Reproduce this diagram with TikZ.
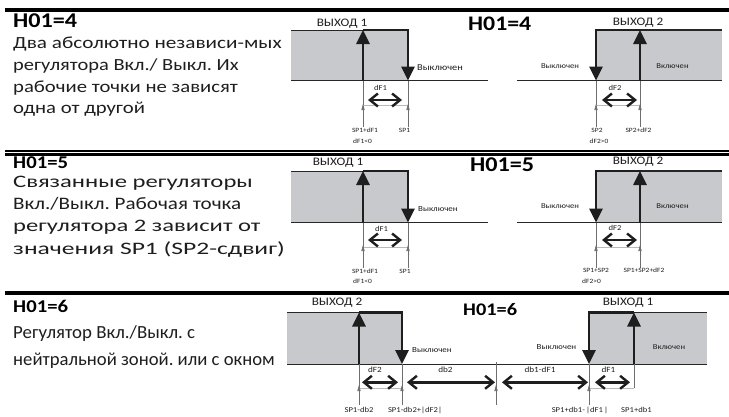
\documentclass[tikz,border=0pt]{standalone}
\usepackage{fontspec}
\setmainfont{Carlito}[FakeStretch=1.15]
\newfontfamily\condfont{Carlito}[FakeStretch=1.0]
\usetikzlibrary{arrows.meta}
\definecolor{boxgray}{RGB}{200,201,204}
\definecolor{ink}{RGB}{30,30,30}
\definecolor{thingray}{RGB}{110,110,110}
\definecolor{palegray}{RGB}{185,185,185}
\newcommand{\fs}[1]{\fontsize{#1}{#1}\selectfont}
\newcommand{\hx}[2]{\scalebox{#1}[1]{#2}}
\frenchspacing
\tikzset{
  txt/.style={inner sep=0pt, text=ink},
  hd/.style={txt, anchor=base west, text=black, font=\bfseries\fs{#1}},
  bodytxt/.style={txt, anchor=base west, font=\frenchspacing\fs{#1}},
  condtxt/.style={txt, anchor=base west, font=\frenchspacing\condfont\fs{#1}},
  outlbl/.style={txt, anchor=base, font=\fs{11.5}},
  statelbl/.style={txt, anchor=base, font=\fs{#1}},
  difflbl/.style={txt, anchor=base, font=\fs{#1}},
  splbl/.style={txt, anchor=base, font=\fs{#1}},
  sepline/.style={line width=#1, black},
  axisline/.style={line width=0.9pt, black!85},
  topline/.style={line width=#1, black!85},
  bigarrow/.style={line width=2.6pt, ink, line join=miter, -{Triangle[length=14pt,width=13pt]}},
  dblarrow/.style={line width=2.4pt, ink, {Straight Barb[length=8pt,width=13pt]}-{Straight Barb[length=8pt,width=13pt]}},
  guide/.style={line width=0.5pt, thingray},
  pale/.style={line width=0.5pt, palegray},
  smallarrow/.style={line width=0.6pt, thingray, -{Triangle[length=6pt,width=3.2pt]}},
}
\begin{document}
\begin{tikzpicture}[x=1pt,y=-1pt]
\useasboundingbox (0,0) rectangle (729,416);

% ---------- separators
\coordinate (s1a) at (5,10);   \coordinate (s1b) at (729,10);
\coordinate (s2a) at (5,150.8); \coordinate (s2b) at (729,150.8);
\coordinate (s2c) at (5,154.5); \coordinate (s2d) at (729,154.5);
\coordinate (s3a) at (5,292.5); \coordinate (s3b) at (729,292.5);
\draw[sepline=3.5pt] (s1a) -- (s1b);
\draw[sepline=1.4pt] (s2a) -- (s2b);
\draw[sepline=3pt] (s2c) -- (s2d);
\draw[sepline=4pt] (s3a) -- (s3b);

% ---------- left texts
\node[hd=21] (h4) at (13,27) {H01=4};
\node[bodytxt=17] (t4a) at (13,48.5) {\hx{1.084}{Два абсолютно независи-мых}};
\node[bodytxt=17] (t4b) at (13,70.5) {\hx{1.046}{регулятора Вкл./ Выкл. Их}};
\node[bodytxt=17] (t4c) at (13,92) {\hx{1.058}{рабочие точки не зависят}};
\node[bodytxt=17] (t4d) at (13,113.5) {\hx{1.06}{одна от другой}};

\node[hd=18] (h5) at (13,168) {H01=5};
\node[bodytxt=17.5] (t5a) at (13,187) {\hx{1.227}{Связанные регуляторы}};
\node[bodytxt=17.5] (t5b) at (13,209.5) {\hx{1.047}{Вкл./Выкл. Рабочая точка}};
\node[bodytxt=17.5] (t5c) at (13,231) {\hx{1.223}{регулятора 2 зависит от}};
\node[bodytxt=17.5] (t5d) at (13,254) {\hx{1.27}{значения SP1 (SP2-сдвиг)}};

\node[hd=18] (h6) at (13,312.3) {H01=6};
\node[condtxt=18.5] (t6a) at (13,338.3) {\hx{1.02}{Регулятор Вкл./Выкл. с}};
\node[condtxt=18.5] (t6b) at (13,365) {\hx{1.01}{нейтральной зоной. или с окном}};

% ---------- middle headings
\node[hd=20.7] (m4) at (468,30) {H01=4};
\node[hd=21] (m5) at (470,171.7) {H01=5};
\node[hd=17.7] (m6) at (463,315) {H01=6};

% ================= SECTION 1 =================
\fill[boxgray] (291,30) rectangle (408,80.5);
\coordinate (a1s) at (291,30);  \coordinate (a1e) at (291,80.5);  \coordinate (a1x) at (488,80.5);
\coordinate (u1b) at (363,80.5); \coordinate (u1t) at (363,30);
\coordinate (d1t) at (408,30);   \coordinate (d1b) at (408,80.5);
\coordinate (u1g) at (363,127);  \coordinate (d1g) at (408,127);
\coordinate (u1h) at (363,104);  \coordinate (d1h) at (408,104);
\coordinate (u1p) at (363,105.5); \coordinate (d1p) at (408,105.5);
\coordinate (w1a) at (368,100);  \coordinate (w1b) at (402,100);
\draw[topline=0.9pt] (a1s) -- (u1t);
\draw[axisline] (a1e) -- (a1x);
\draw[bigarrow] (u1b) -- (u1t);
\draw[bigarrow] (u1t) -- (d1t) -- (d1b);
\draw[guide] (u1b) -- (u1g);
\draw[guide] (d1b) -- (d1g);
\draw[pale] (u1p) -- (d1p);
\draw[dblarrow] (w1a) -- (w1b);
\draw[smallarrow] (u1g) -- (u1h);
\draw[smallarrow] (d1g) -- (d1h);
\node[outlbl] (o1a) at (342,26) {ВЫХОД 1};
\node[statelbl=9, anchor=base west] (off1a) at (417,70.5) {Выключен};
\node[difflbl=7.5] (df1a) at (380.5,90) {dF1};
\node[splbl=6.5] (sp1a) at (365,132.7) {SP1+dF1};
\node[splbl=6.5] (sp1b) at (404.5,132.7) {SP1};
\node[splbl=6.5, anchor=base west] (cn1a) at (353,143.5) {dF1<0};

\fill[boxgray] (596,30) rectangle (722,80.5);
\coordinate (a2s) at (517,80.5); \coordinate (a2e) at (722,80.5);
\coordinate (t2e) at (722,30);
\coordinate (u2b) at (640,80.5); \coordinate (u2t) at (640,30);
\coordinate (d2t) at (596,30);   \coordinate (d2b) at (596,80.5);
\coordinate (u2g) at (640,127);  \coordinate (d2g) at (596,127);
\coordinate (u2h) at (640,104);  \coordinate (d2h) at (596,104);
\coordinate (u2p) at (640,105.5); \coordinate (d2p) at (596,105.5);
\coordinate (w2a) at (602,100);  \coordinate (w2b) at (637,100);
\draw[topline=1.4pt] (u2t) -- (t2e);
\draw[axisline] (a2s) -- (a2e);
\draw[bigarrow] (u2b) -- (u2t);
\draw[bigarrow] (u2t) -- (d2t) -- (d2b);
\draw[guide] (u2b) -- (u2g);
\draw[guide] (d2b) -- (d2g);
\draw[pale] (d2p) -- (u2p);
\draw[dblarrow] (w2a) -- (w2b);
\draw[smallarrow] (u2g) -- (u2h);
\draw[smallarrow] (d2g) -- (d2h);
\node[outlbl] (o2a) at (638,25) {ВЫХОД 2};
\node[statelbl=7.5] (off2a) at (560,68.3) {Выключен};
\node[statelbl=7.5] (on2a) at (672.5,68.3) {Включен};
\node[difflbl=7.5] (df2a) at (615,90) {dF2};
\node[splbl=6.5] (sp2a) at (597,132.7) {SP2};
\node[splbl=6.5] (sp2b) at (638.5,132.7) {SP2+dF2};
\node[splbl=6.5] (cn2a) at (599,143.5) {dF2>0};

% ================= SECTION 2 =================
\fill[boxgray] (291,171) rectangle (408,222.5);
\coordinate (a3s) at (291,171);  \coordinate (a3e) at (291,222.5);  \coordinate (a3x) at (488,222.5);
\coordinate (u3b) at (363,222.5); \coordinate (u3t) at (363,171);
\coordinate (d3t) at (408,171);   \coordinate (d3b) at (408,222.5);
\coordinate (u3g) at (363,268);  \coordinate (d3g) at (408,268);
\coordinate (u3h) at (363,245);  \coordinate (d3h) at (408,245);
\coordinate (u3p) at (363,247); \coordinate (d3p) at (408,247);
\coordinate (w3a) at (368,240);  \coordinate (w3b) at (402,240);
\draw[topline=0.9pt] (a3s) -- (u3t);
\draw[axisline] (a3e) -- (a3x);
\draw[bigarrow] (u3b) -- (u3t);
\draw[bigarrow] (u3t) -- (d3t) -- (d3b);
\draw[guide] (u3b) -- (u3g);
\draw[guide] (d3b) -- (d3g);
\draw[pale] (u3p) -- (d3p);
\draw[dblarrow] (w3a) -- (w3b);
\draw[smallarrow] (u3g) -- (u3h);
\draw[smallarrow] (d3g) -- (d3h);
\node[outlbl] (o1b) at (338,165) {ВЫХОД 1};
\node[statelbl=7.8, anchor=base west] (off1b) at (418,211.5) {Выключен};
\node[difflbl=7.5] (df1b) at (381.5,231.7) {dF1};
\node[splbl=6.5] (sp3a) at (365,273.3) {SP1+dF1};
\node[splbl=6.5] (sp3b) at (405,273.3) {SP1};
\node[splbl=6.5, anchor=base west] (cn1b) at (353,283.5) {dF1<0};

\fill[boxgray] (596,171) rectangle (722,222.5);
\coordinate (a4s) at (517,222.5); \coordinate (a4e) at (722,222.5);
\coordinate (t4e) at (722,171);
\coordinate (u4b) at (640,222.5); \coordinate (u4t) at (640,171);
\coordinate (d4t) at (596,171);   \coordinate (d4b) at (596,222.5);
\coordinate (u4g) at (640,268);  \coordinate (d4g) at (596,268);
\coordinate (u4h) at (640,245);  \coordinate (d4h) at (596,245);
\coordinate (u4p) at (640,247); \coordinate (d4p) at (596,247);
\coordinate (w4a) at (602,240);  \coordinate (w4b) at (637,240);
\draw[topline=1.4pt] (u4t) -- (t4e);
\draw[axisline] (a4s) -- (a4e);
\draw[bigarrow] (u4b) -- (u4t);
\draw[bigarrow] (u4t) -- (d4t) -- (d4b);
\draw[guide] (u4b) -- (u4g);
\draw[guide] (d4b) -- (d4g);
\draw[pale] (d4p) -- (u4p);
\draw[dblarrow] (w4a) -- (w4b);
\draw[smallarrow] (u4g) -- (u4h);
\draw[smallarrow] (d4g) -- (d4h);
\node[outlbl] (o2b) at (638,164.5) {ВЫХОД 2};
\node[statelbl=7.5] (off2b) at (560,208.3) {Выключен};
\node[statelbl=7.5] (on2b) at (672.5,208.3) {Включен};
\node[difflbl=7.5] (df2b) at (615,230) {dF2};
\node[splbl=6.5] (sp4a) at (596,272.7) {SP1+SP2};
\node[splbl=6.5] (sp4b) at (644,272.7) {SP1+SP2+dF2};
\node[splbl=6.5, anchor=base west] (cn2b) at (582,283.3) {dF2>0};

% ================= SECTION 3 =================
\fill[boxgray] (287,312.5) rectangle (402,364);
\fill[boxgray] (589,312.5) rectangle (707,364);
\coordinate (a5s) at (287,312.5); \coordinate (a5e) at (287,364); \coordinate (a5x) at (707,364);
\coordinate (t6e) at (707,312.5);
\coordinate (u5b) at (359,364); \coordinate (u5t) at (359,312.5);
\coordinate (d5t) at (402,312.5); \coordinate (d5b) at (402,364);
\coordinate (u6b) at (634,364); \coordinate (u6t) at (634,312.5);
\coordinate (d6t) at (589,312.5); \coordinate (d6b) at (589,364);
\coordinate (mz) at (496,362);
\coordinate (u5g) at (359,405); \coordinate (d5g) at (402,405);
\coordinate (mzg) at (496,405); \coordinate (d6g) at (589,405);
\coordinate (u6g) at (634,388);
\coordinate (u5h) at (359,385); \coordinate (d5h) at (402,385);
\coordinate (mzh) at (496,385); \coordinate (d6h) at (589,385);
\coordinate (u5p) at (359,388); \coordinate (d5p) at (402,388);
\coordinate (d6p) at (589,388);
\coordinate (w5a) at (362,382.3); \coordinate (w5b) at (398,382.3);
\coordinate (w6a) at (407,382.3); \coordinate (w6b) at (495,382.3);
\coordinate (w7a) at (502,382.3); \coordinate (w7b) at (588,382.3);
\coordinate (w8a) at (595,382.3); \coordinate (w8b) at (630,382.3);

\draw[topline=0.9pt] (a5s) -- (u5t);
\draw[topline=1.2pt] (u6t) -- (t6e);
\draw[axisline] (a5e) -- (a5x);
\draw[bigarrow] (u5b) -- (u5t);
\draw[bigarrow] (u5t) -- (d5t) -- (d5b);
\draw[bigarrow] (u6b) -- (u6t);
\draw[bigarrow] (u6t) -- (d6t) -- (d6b);
\draw[guide] (u5b) -- (u5g);
\draw[guide] (d5b) -- (d5g);
\draw[guide] (mz) -- (mzg);
\draw[guide] (d6b) -- (d6g);
\draw[guide] (u6b) -- (u6g);
\draw[pale] (u5p) -- (d5p);
\draw[pale] (d6p) -- (u6g);
\draw[dblarrow] (w5a) -- (w5b);
\draw[dblarrow] (w6a) -- (w6b);
\draw[dblarrow] (w7a) -- (w7b);
\draw[dblarrow] (w8a) -- (w8b);
\draw[smallarrow] (u5g) -- (u5h);
\draw[smallarrow] (d5g) -- (d5h);
\draw[smallarrow] (mzg) -- (mzh);
\draw[smallarrow] (d6g) -- (d6h);

\node[outlbl] (o2c) at (337,305.7) {ВЫХОД 2};
\node[outlbl] (o1c) at (628,305.7) {ВЫХОД 1};
\node[statelbl=7.8, anchor=base west] (off2c) at (412,352.3) {Выключен};
\node[statelbl=7.8] (off1c) at (556.5,349) {Выключен};
\node[statelbl=7.5] (on1c) at (669,349) {Включен};
\node[difflbl=8] (df2c) at (375,372.3) {dF2};
\node[difflbl=8] (db2c) at (445.5,372.3) {db2};
\node[difflbl=8] (db1c) at (540,372.3) {db1-dF1};
\node[difflbl=8] (df1c) at (608.5,372.3) {dF1};
\node[splbl=7.5] (sp5a) at (359,412.3) {SP1-db2};
\node[splbl=7.5] (sp5b) at (415,412.3) {SP1-db2+|dF2|};
\node[splbl=7.5] (sp6a) at (580,412.3) {SP1+db1-\,|dF1\,|};
\node[splbl=7.5] (sp6b) at (636.5,412.3) {SP1+db1};
\end{tikzpicture}
\end{document}
